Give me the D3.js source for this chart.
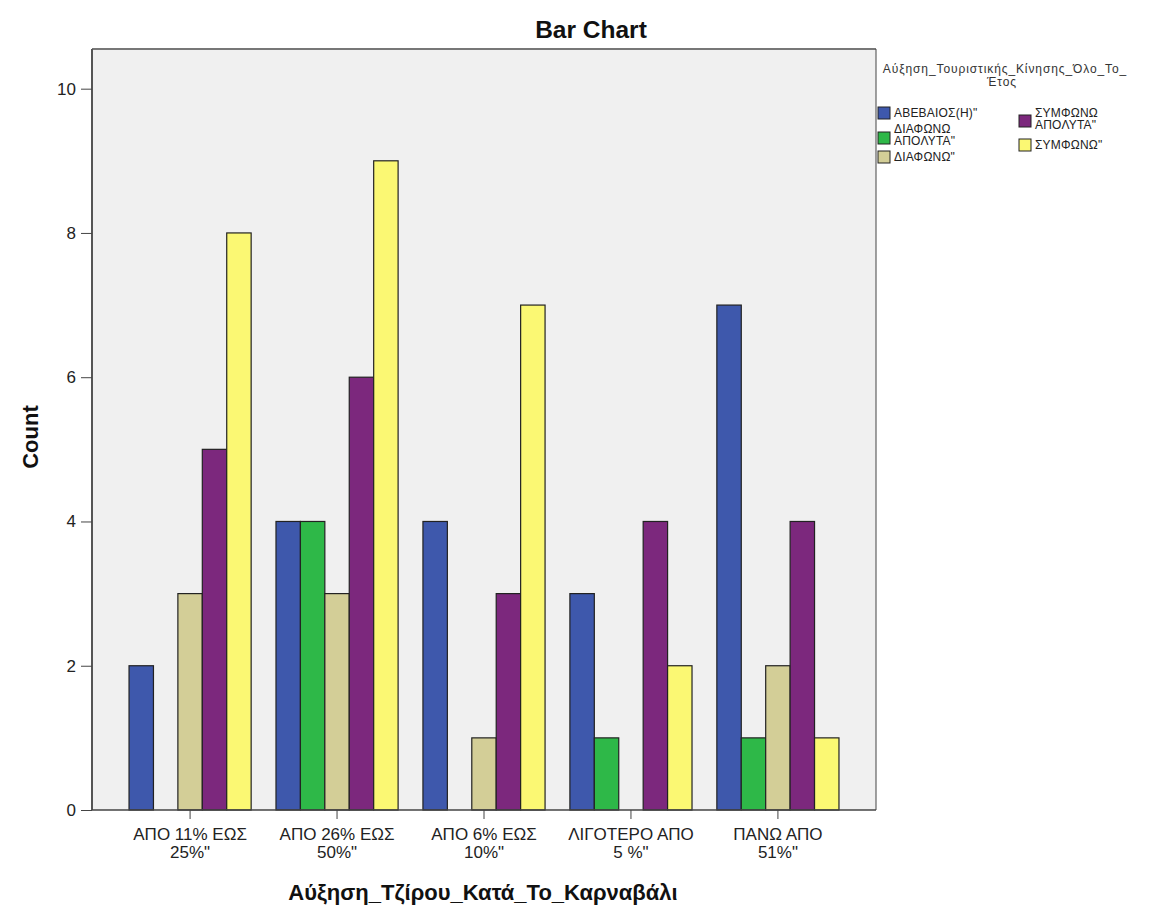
<!DOCTYPE html>
<html><head><meta charset="utf-8">
<script src="https://cdn.jsdelivr.net/npm/d3@7"></script>
<style>body{margin:0;background:#fff;} text{font-family:"Liberation Sans",Arial,sans-serif;}</style>
</head><body><svg id="c" width="1154" height="916"></svg>
<script>
const categories = [["ΑΠΟ 11% ΕΩΣ","25%\""],["ΑΠΟ 26% ΕΩΣ","50%\""],["ΑΠΟ 6% ΕΩΣ","10%\""],["ΛΙΓΟΤΕΡΟ ΑΠΟ","5 %\""],["ΠΑΝΩ ΑΠΟ","51%\""]];
const seriesNames = ["ΑΒΕΒΑΙΟΣ(Η)\"","ΔΙΑΦΩΝΩ ΑΠΟΛΥΤΑ\"","ΔΙΑΦΩΝΩ\"","ΣΥΜΦΩΝΩ ΑΠΟΛΥΤΑ\"","ΣΥΜΦΩΝΩ\""];
const seriesColors = ["#3E58AC","#2EB848","#D3CE97","#7C287D","#FBF873"];
const valAbevaios = [2,4,4,3,7];
const valDiafonoApolyta = [0,4,0,1,1];
const valDiafono = [3,3,1,0,2];
const valSymfonoApolyta = [5,6,3,4,4];
const valSymfono = [8,9,7,2,1];
const yTicks = [0,2,4,6,8,10];
const seriesValues = [valAbevaios,valDiafonoApolyta,valDiafono,valSymfonoApolyta,valSymfono];

const svg = d3.select("#c");
const L=92, R=876, T=49, B=810;
const x0 = d3.scaleBand().domain(d3.range(categories.length)).range([L,R]).paddingInner(0.169).paddingOuter(0.252);
const x1 = d3.scaleBand().domain(d3.range(seriesNames.length)).range([0,x0.bandwidth()]);
const y = d3.scaleLinear().domain([0,10.55]).range([B,T]);

svg.append("rect").attr("x",L).attr("y",T).attr("width",R-L).attr("height",B-T).attr("fill","#f0f0f0");

const g = svg.append("g");
categories.forEach((c,i)=>{
  seriesValues.forEach((vals,s)=>{
    const v = vals[i];
    if(v<=0) return;
    g.append("rect").attr("x",x0(i)+x1(s)).attr("y",y(v)).attr("width",x1.bandwidth()).attr("height",y(0)-y(v))
      .attr("fill",seriesColors[s]).attr("stroke","#222").attr("stroke-width",1.2);
  });
});

// frame
svg.append("line").attr("x1",L).attr("x2",R).attr("y1",T).attr("y2",T).attr("stroke","#777").attr("stroke-width",2);
svg.append("line").attr("x1",R).attr("x2",R).attr("y1",T).attr("y2",B).attr("stroke","#444").attr("stroke-width",1);

// y axis
const ya = svg.append("g").attr("transform",`translate(${L},0)`).call(d3.axisLeft(y).tickValues(yTicks).tickSize(11).tickPadding(5).tickFormat(d3.format("d")));
ya.select(".domain").attr("stroke","#555").attr("stroke-width",2).attr("d",`M0,${B}V${T}`);
ya.selectAll(".tick line").attr("stroke","#444");
ya.selectAll(".tick text").attr("font-size",17).attr("fill","#222").style("font-family","Liberation Sans, Arial");

// x axis
const xa = svg.append("g").attr("transform",`translate(0,${B})`).call(d3.axisBottom(x0).tickSize(9).tickFormat(""));
xa.select(".domain").attr("stroke","#444").attr("stroke-width",1.5).attr("d",`M${L},0H${R}`);
xa.selectAll(".tick line").attr("stroke","#444");
categories.forEach((c,i)=>{
  const cx = x0(i)+x0.bandwidth()/2;
  const t = svg.append("text").attr("x",cx).attr("y",840).attr("text-anchor","middle").attr("font-size",17).attr("fill","#222");
  t.append("tspan").attr("x",cx).text(c[0]);
  t.append("tspan").attr("x",cx).attr("dy",18).text(c[1]);
});

// titles
svg.append("text").attr("x",591).attr("y",38).attr("text-anchor","middle").attr("font-size",24.5).attr("font-weight","bold").attr("fill","#111").text("Bar Chart");
svg.append("text").attr("x",483).attr("y",900).attr("text-anchor","middle").attr("font-size",22).attr("font-weight","bold").attr("fill","#111").text("Αύξηση_Τζίρου_Κατά_Το_Καρναβάλι");
svg.append("text").attr("transform","translate(38,437) rotate(-90)").attr("text-anchor","middle").attr("font-size",22).attr("font-weight","bold").attr("fill","#111").text("Count");

// legend
const lg = svg.append("g");
lg.append("text").attr("x",1005).attr("y",73).attr("text-anchor","middle").attr("font-size",12).attr("letter-spacing",0.9).attr("fill","#333").text("Αύξηση_Τουριστικής_Κίνησης_Όλο_Το_");
lg.append("text").attr("x",1002).attr("y",86).attr("text-anchor","middle").attr("font-size",12).attr("letter-spacing",0.9).attr("fill","#333").text("Έτος");
// [square x, square y, first baseline]
const legendPos = [[878,107,117],[878,132,133],[878,151,161],[1019,115,117],[1019,139,149]];
seriesNames.forEach((n,s)=>{
  const [lx,ly,tb] = legendPos[s];
  lg.append("rect").attr("x",lx).attr("y",ly).attr("width",12).attr("height",12).attr("fill",seriesColors[s]).attr("stroke","#222").attr("stroke-width",1);
  const words = n.split(" ");
  const t = lg.append("text").attr("x",lx+16).attr("y",tb).attr("font-size",12).attr("letter-spacing",0.2).attr("fill","#222");
  if(words.length>1){
    t.append("tspan").attr("x",lx+16).text(words[0]);
    t.append("tspan").attr("x",lx+16).attr("dy",12).text(words.slice(1).join(" "));
  } else t.text(n);
});
</script></body></html>
